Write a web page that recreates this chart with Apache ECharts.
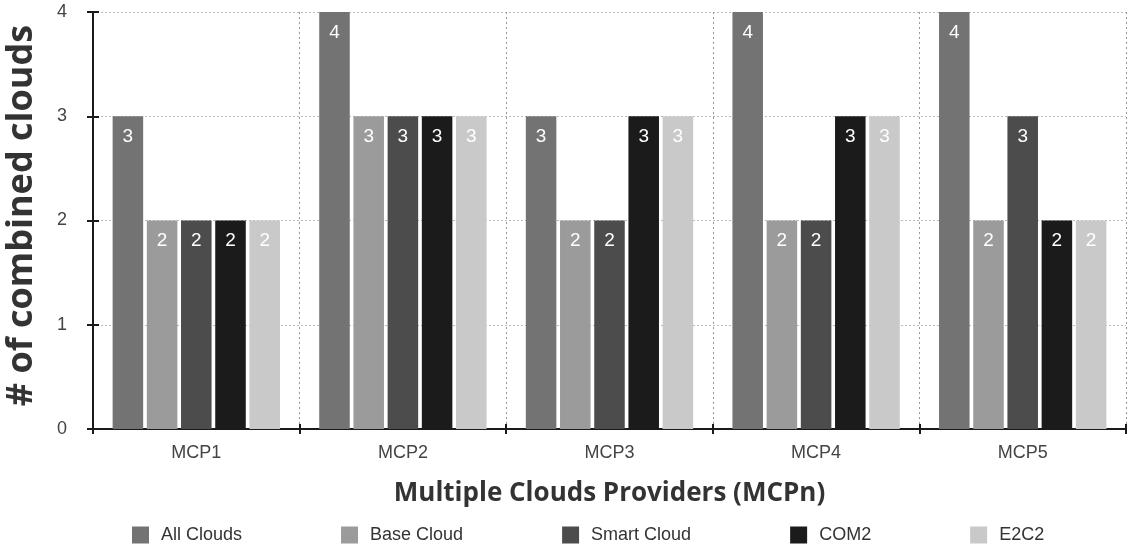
<!DOCTYPE html>
<html>
<head>
<meta charset="utf-8">
<script src="https://cdn.jsdelivr.net/npm/echarts@6/dist/echarts.min.js"></script>
<style>
  html, body { margin: 0; padding: 0; background: #fff; }
  #chart { width: 1128px; height: 546px; }
</style>
</head>
<body>
<div id="chart"></div>
<script>
// Number of combined clouds per multi-cloud provider
const providers = ['MCP1', 'MCP2', 'MCP3', 'MCP4', 'MCP5'];
const allClouds   = [3, 4, 3, 4, 4];
const baseCloud   = [2, 3, 2, 2, 2];
const smartCloud  = [2, 3, 2, 2, 3];
const com2        = [2, 3, 3, 3, 2];
const e2c2        = [2, 3, 3, 3, 2];
const yTicks = [0, 1, 2, 3, 4];

const seriesDefs = [
  { name: 'All Clouds',  data: allClouds,  color: '#737373' },
  { name: 'Base Cloud',  data: baseCloud,  color: '#9b9b9b' },
  { name: 'Smart Cloud', data: smartCloud, color: '#4c4c4c' },
  { name: 'COM2',        data: com2,       color: '#1b1b1b' },
  { name: 'E2C2',        data: e2c2,       color: '#c9c9c9' }
];

const chart = echarts.init(document.getElementById('chart'), null, { renderer: 'canvas' });

const axisFont = '"Liberation Sans", Arial, sans-serif';
const titleFont = '"Open Sans", Lato, sans-serif';

const option = {
  backgroundColor: '#ffffff',
  animation: false,
  grid: {
    left: 93, right: 2, top: 12, bottom: 117,
    containLabel: false,
    outerBoundsMode: 'none'
  },
  legend: {
    left: 127,
    top: 521,
    itemWidth: 17,
    itemHeight: 17,
    itemGap: 99,
    icon: 'rect',
    textStyle: {
      fontFamily: axisFont, fontSize: 18, color: '#333',
      padding: [0, 0, 0, 7]
    },
    data: seriesDefs.map(s => s.name)
  },
  xAxis: [
    {
      type: 'category',
      data: providers,
      name: 'Multiple Clouds Providers (MCPn)',
      nameLocation: 'middle',
      nameGap: 52,
      nameTextStyle: { fontFamily: titleFont, fontWeight: 'bold', fontSize: 26, color: '#333' },
      axisLine: { lineStyle: { color: '#1a1a1a', width: 2 } },
      axisTick: { show: true, length: 5, lineStyle: { color: '#1a1a1a', width: 2 } },
      axisLabel: { fontFamily: axisFont, fontSize: 18, color: '#444', margin: 15 },
      splitLine: { show: true, lineStyle: { color: '#999', type: [2, 3], width: 1 } }
    },
    {
      // second bottom axis: tick marks drawn inward
      type: 'category',
      data: providers,
      position: 'bottom',
      axisLine: { show: false },
      axisTick: { show: true, inside: true, length: 5, lineStyle: { color: '#1a1a1a', width: 2 } },
      axisLabel: { show: false },
      splitLine: { show: false }
    }
  ],
  yAxis: [
    {
      type: 'value',
      min: yTicks[0],
      max: yTicks[yTicks.length - 1],
      interval: 1,
      name: '# of combined clouds',
      nameLocation: 'middle',
      nameGap: 53,
      nameTextStyle: {
        fontFamily: titleFont, fontWeight: 'bold', fontSize: 36, color: '#333',
        padding: [0, 0, 0, 10]
      },
      axisLine: { show: true, lineStyle: { color: '#1a1a1a', width: 2 } },
      axisTick: { show: true, length: 6, lineStyle: { color: '#1a1a1a', width: 2 } },
      axisLabel: { fontFamily: axisFont, fontSize: 18, color: '#444', margin: 26 },
      splitLine: { show: true, lineStyle: { color: '#bbb', type: [2, 2], width: 1 } }
    },
    {
      // second left axis: tick marks drawn inward
      type: 'value',
      position: 'left',
      min: yTicks[0],
      max: yTicks[yTicks.length - 1],
      interval: 1,
      axisLine: { show: false },
      axisTick: { show: true, inside: true, length: 6, lineStyle: { color: '#1a1a1a', width: 2 } },
      axisLabel: { show: false },
      splitLine: { show: false }
    }
  ],
  series: seriesDefs.map(s => ({
    name: s.name,
    type: 'bar',
    xAxisIndex: 0,
    yAxisIndex: 0,
    data: s.data,
    barCategoryGap: '19%',
    barGap: '12%',
    itemStyle: { color: s.color },
    label: {
      show: true,
      position: 'insideTop',
      distance: 11,
      color: '#ffffff',
      fontFamily: axisFont,
      fontSize: 19
    }
  }))
};

chart.setOption(option);
</script>
</body>
</html>
